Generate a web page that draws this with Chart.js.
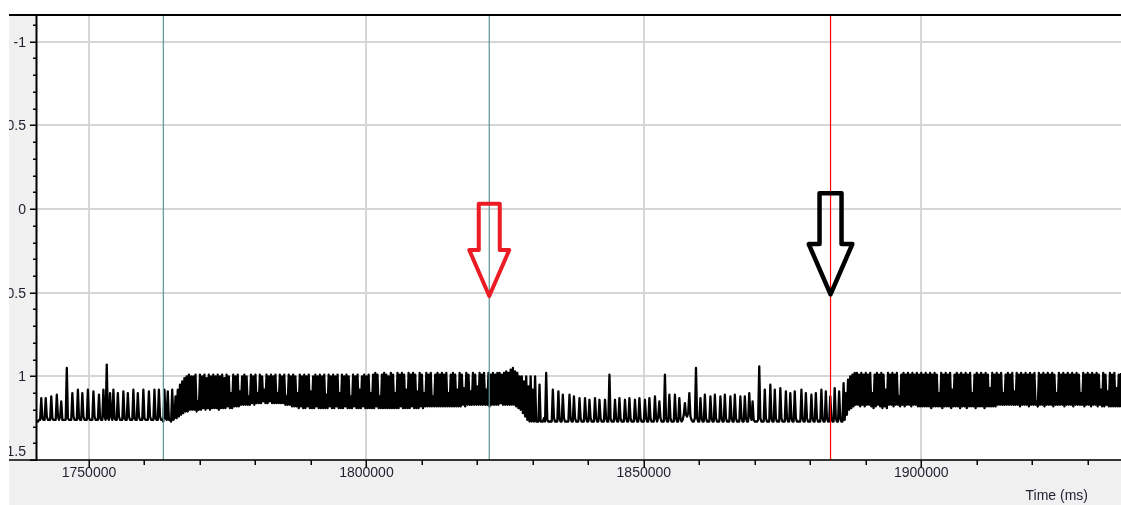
<!DOCTYPE html>
<html>
<head>
<meta charset="utf-8">
<title>Signal trace</title>
<script src="https://cdn.jsdelivr.net/npm/chart.js@4.4.1/dist/chart.umd.min.js"></script>
<style>
  html, body { margin: 0; padding: 0; background: #fff; }
  #wrap { position: relative; width: 1121px; height: 505px; }
</style>
</head>
<body>
<div id="wrap"><canvas id="plot"></canvas></div>
<script>
// Recorded signal, decimated to one reading every 200 ms (20 readings = 4 s per row)
const sampleStart = 1740600;
const sampleStepMs = 200;
const signal = [
  1.27,1.27,1.26,1.26,1.13,1.25,1.26,1.26,1.13,1.24,1.26,1.26,1.26,1.12,1.25,1.26,1.26,1.26,1.11,1.24,
  1.26,1.24,1.15,1.26,1.26,1.26,1.26,0.95,1.25,1.26,1.26,1.26,1.10,1.24,1.26,1.26,1.26,1.08,1.25,1.26,
  1.26,1.10,1.24,1.26,1.26,1.26,1.08,1.25,1.26,1.26,1.26,1.09,1.24,1.26,1.26,1.26,1.11,1.25,1.26,1.26,
  1.08,1.24,1.26,0.93,1.25,1.26,1.10,1.24,1.26,1.08,1.25,1.26,1.26,1.10,1.24,1.26,1.26,1.26,1.09,1.25,
  1.26,1.26,1.10,1.24,1.26,1.26,1.26,1.08,1.25,1.26,1.26,1.10,1.24,1.26,1.26,1.26,1.08,1.25,1.26,1.26,
  1.26,1.09,1.24,1.26,1.26,1.26,1.08,1.25,1.26,1.26,1.08,1.24,1.26,1.26,1.27,1.08,1.25,1.26,1.09,1.26,
  1.26,1.27,1.08,1.26,1.25,1.12,1.25,1.08,1.24,1.05,1.23,1.03,1.22,1.01,1.21,1.00,1.21,0.99,1.20,1.00,
  1.20,1.00,1.20,0.99,1.21,1.15,1.20,0.99,1.20,1.00,1.19,0.99,1.20,1.01,1.19,0.99,1.20,1.00,1.19,0.99,
  1.19,1.00,1.19,0.99,1.20,1.00,1.19,0.99,1.19,1.01,1.19,0.99,1.18,1.00,1.19,1.10,1.19,0.99,1.18,1.00,
  1.18,0.99,1.18,1.09,1.17,1.00,1.17,0.99,1.17,1.00,1.17,1.12,1.17,0.99,1.16,1.00,1.17,0.99,1.16,1.10,
  1.16,0.99,1.16,1.00,1.15,1.08,1.16,0.99,1.16,1.00,1.15,0.99,1.16,1.00,1.16,0.99,1.16,1.10,1.16,0.99,
  1.16,1.00,1.16,0.99,1.17,1.12,1.17,0.99,1.17,1.00,1.18,0.99,1.18,1.00,1.18,1.10,1.19,0.99,1.18,1.00,
  1.19,0.99,1.19,1.00,1.18,0.99,1.19,1.09,1.19,1.00,1.19,0.99,1.18,1.00,1.19,0.99,1.19,1.00,1.19,0.99,
  1.19,1.11,1.19,0.99,1.18,1.00,1.19,0.99,1.19,1.00,1.18,0.99,1.19,1.10,1.19,0.99,1.19,1.00,1.18,0.99,
  1.19,1.00,1.19,1.12,1.19,0.99,1.18,1.00,1.19,0.99,1.19,1.08,1.19,1.00,1.18,0.99,1.19,1.00,1.19,0.99,
  1.19,1.10,1.19,0.99,1.19,0.98,1.18,0.99,1.19,1.12,1.19,0.99,1.19,0.98,1.19,0.99,1.19,1.00,1.19,0.98,
  1.19,0.99,1.19,1.10,1.19,0.98,1.19,0.99,1.18,0.98,1.19,0.99,1.19,1.08,1.19,0.98,1.19,0.99,1.18,0.98,
  1.19,0.99,1.19,1.09,1.19,0.98,1.18,0.99,1.19,1.10,1.18,0.98,1.18,0.99,1.18,0.98,1.18,1.12,1.18,0.99,
  1.18,0.98,1.18,0.99,1.18,0.98,1.18,0.99,1.18,0.98,1.18,1.10,1.18,0.99,1.18,0.98,1.18,0.99,1.18,1.08,
  1.18,0.98,1.18,0.99,1.17,1.07,1.18,0.98,1.17,0.99,1.17,1.09,1.17,0.98,1.17,0.99,1.17,1.06,1.17,0.98,
  1.17,0.99,1.17,0.98,1.17,1.08,1.17,0.98,1.18,0.99,1.17,0.98,1.17,0.99,1.17,0.98,1.17,0.98,1.16,0.99,
  1.17,0.98,1.17,0.97,1.17,0.98,1.17,0.96,1.17,0.95,1.17,0.97,1.18,0.98,1.19,1.00,1.20,1.00,1.22,1.03,
  1.24,1.00,1.26,1.06,1.27,1.00,1.27,1.08,1.27,1.00,1.27,1.27,1.27,1.05,1.27,1.27,1.27,1.25,1.27,0.98,
  1.26,1.27,1.27,1.27,1.27,1.08,1.25,1.27,1.27,1.27,1.09,1.25,1.27,1.27,1.11,1.25,1.27,1.27,1.27,1.27,
  1.11,1.25,1.27,1.27,1.12,1.25,1.27,1.27,1.27,1.13,1.25,1.27,1.27,1.27,1.13,1.25,1.27,1.27,1.14,1.25,
  1.27,1.27,1.27,1.13,1.25,1.27,1.27,1.14,1.25,1.27,1.27,1.27,1.14,1.25,1.27,1.27,0.99,1.25,1.27,1.27,
  1.27,1.14,1.25,1.27,1.27,1.13,1.25,1.27,1.27,1.27,1.14,1.25,1.27,1.27,1.13,1.25,1.27,1.27,1.27,1.14,
  1.25,1.27,1.27,1.13,1.25,1.27,1.27,1.27,1.14,1.25,1.27,1.27,1.13,1.25,1.27,1.27,1.27,1.12,1.25,1.27,
  1.24,1.15,1.25,1.27,1.27,1.27,0.99,1.25,1.27,1.27,1.11,1.25,1.27,1.27,1.27,1.11,1.25,1.27,1.27,1.13,
  1.25,1.27,1.26,1.23,1.16,1.23,1.24,1.22,1.10,1.24,1.26,1.27,1.27,1.25,0.95,1.25,1.27,1.27,1.13,1.25,
  1.27,1.27,1.11,1.25,1.27,1.27,1.27,1.12,1.25,1.27,1.27,1.11,1.25,1.27,1.27,1.27,1.12,1.25,1.27,1.27,
  1.11,1.25,1.27,1.27,1.27,1.12,1.25,1.27,1.27,1.11,1.25,1.27,1.27,1.27,1.12,1.25,1.27,1.27,1.12,1.25,
  1.27,1.27,1.10,1.24,1.26,1.15,1.26,1.27,1.27,1.27,1.26,0.94,1.25,1.27,1.27,1.27,1.08,1.25,1.27,1.27,
  1.27,1.05,1.25,1.27,1.27,1.08,1.25,1.27,1.27,1.27,1.07,1.25,1.27,1.27,1.27,1.09,1.25,1.27,1.27,1.10,
  1.25,1.27,1.27,1.09,1.25,1.27,1.27,1.27,1.27,1.08,1.25,1.27,1.27,1.10,1.25,1.27,1.27,1.27,1.11,1.25,
  1.27,1.27,1.10,1.25,1.27,1.27,1.27,1.08,1.25,1.27,1.27,1.09,1.25,1.27,1.27,1.12,1.25,1.27,1.27,1.07,
  1.25,1.27,1.27,1.09,1.25,1.27,1.27,1.04,1.26,1.10,1.23,1.02,1.20,1.00,1.19,0.99,1.18,0.98,1.17,0.98,
  1.17,0.99,1.18,0.98,1.17,0.99,1.18,0.98,1.17,0.99,1.17,0.98,1.18,1.10,1.19,0.99,1.18,0.98,1.17,0.99,
  1.18,0.98,1.19,0.99,1.18,1.08,1.19,0.98,1.17,0.99,1.17,0.98,1.18,0.99,1.17,0.98,1.17,1.12,1.18,0.99,
  1.17,0.98,1.18,0.99,1.17,0.98,1.17,0.99,1.18,0.98,1.17,0.99,1.17,0.98,1.18,0.99,1.18,0.98,1.18,0.99,
  1.18,0.98,1.18,0.99,1.18,0.98,1.19,0.99,1.18,0.98,1.18,0.99,1.18,1.10,1.18,0.98,1.19,0.99,1.18,0.98,
  1.18,0.99,1.18,0.98,1.19,1.08,1.18,0.99,1.18,0.98,1.18,0.99,1.19,0.98,1.18,0.99,1.18,0.98,1.19,0.99,
  1.18,0.98,1.18,1.10,1.18,0.99,1.19,0.98,1.18,0.99,1.18,0.98,1.18,0.99,1.19,0.98,1.18,0.99,1.18,1.07,
  1.18,0.98,1.18,0.99,1.18,0.98,1.17,0.99,1.17,0.98,1.17,1.10,1.17,0.99,1.17,0.98,1.17,0.99,1.17,0.98,
  1.17,1.09,1.17,0.98,1.17,0.99,1.18,0.98,1.17,0.99,1.17,0.98,1.17,0.99,1.18,0.98,1.17,0.99,1.17,0.98,
  1.17,1.15,1.18,0.98,1.17,0.99,1.17,0.98,1.18,0.99,1.17,0.98,1.17,0.99,1.17,0.98,1.18,0.99,1.17,1.10,
  1.17,0.98,1.17,0.99,1.17,0.98,1.18,0.99,1.17,0.98,1.17,0.99,1.17,0.98,1.18,0.99,1.17,0.98,1.17,0.99,
  1.17,1.10,1.17,0.98,1.18,0.99,1.17,0.98,1.17,0.99,1.18,0.98,1.17,0.99,1.17,0.98,1.18,0.99,1.17,1.08,
  1.18,0.98,1.18,0.99,1.17,1.09,1.18,0.98,1.18,0.99,1.18,0.98,1.18,1.07,1.18,0.99,1.18,0.98,1.18,0.99
];

// Cursor lines (ms) and the two call-out arrows
const markerTimes = [1763400, 1822140, 1883650];
const arrowTimes = [1822140, 1883650];
const arrowTops = [-0.032, -0.094];
const arrowShoulders = [0.245, 0.209];
const arrowTips = [0.520, 0.510];

// Axis ranges and tick labels
const xRange = [1740630, 1936000];
const yRange = [-1.16, 1.5];
const xMajorTicks = [1750000, 1800000, 1850000, 1900000];
const xTickLabels = ['1750000', '1800000', '1850000', '1900000'];
const yMajorTicks = [-1, -0.5, 0, 0.5, 1, 1.5];
const yTickLabels = ['-1', '-0.5', '0', '0.5', '1', '1.5'];
const xMinorStep = 10000;
const yMinorStep = 0.1;
const xAxisTitle = 'Time (ms)';

const markerColors = ['#5b9595', '#5b9595', '#ff0000'];
const arrowLook = [
  { color: '#ec1c24', width: 4, shaft: 10.5, head: 20 },
  { color: '#000000', width: 4.5, shaft: 11, head: 21.8 }
];
const labelFont = '14px "Liberation Sans", Arial, sans-serif';
const labelColor = '#1f1f2e';
const gridColor = '#d6d6d6';

const signalPoints = signal.map((v, i) => ({ x: sampleStart + i * sampleStepMs, y: v }));

const datasets = markerTimes.map((t, i) => ({
  data: [{ x: t, y: yRange[0] }, { x: t, y: yRange[1] }],
  borderColor: markerColors[i],
  borderWidth: 1.2,
  pointRadius: 0,
  order: 0
}));
datasets.push({
  data: signalPoints,
  borderColor: '#000000',
  borderWidth: 2.3,
  borderJoinStyle: 'round',
  pointRadius: 0,
  tension: 0,
  order: 1
});

const framePlugin = {
  id: 'frame',
  beforeDraw(chart) {
    const { ctx, chartArea: a, width, height } = chart;
    ctx.save();
    ctx.fillStyle = '#ffffff';
    ctx.fillRect(0, 0, width, height);
    ctx.fillStyle = '#f0f0f0';
    ctx.fillRect(9, 15, width - 9, height - 15);
    ctx.fillStyle = '#ffffff';
    ctx.fillRect(a.left, a.top, a.right - a.left, a.bottom - a.top);
    ctx.restore();
  },
  beforeDatasetsDraw(chart) {
    // major grid lines
    const { ctx, chartArea: a } = chart;
    const xs = chart.scales.x, ys = chart.scales.y;
    ctx.save();
    ctx.strokeStyle = gridColor;
    ctx.lineWidth = 2;
    ctx.beginPath();
    xMajorTicks.forEach(t => {
      const px = Math.round(xs.getPixelForValue(t));
      ctx.moveTo(px, a.top); ctx.lineTo(px, a.bottom);
    });
    yMajorTicks.forEach(v => {
      const py = Math.round(ys.getPixelForValue(v));
      ctx.moveTo(a.left, py); ctx.lineTo(a.right, py);
    });
    ctx.stroke();
    ctx.restore();
  },
  afterDatasetsDraw(chart) {
    const { ctx } = chart;
    const xs = chart.scales.x, ys = chart.scales.y;
    ctx.save();
    arrowTimes.forEach((t, i) => {
      const look = arrowLook[i];
      const cx = xs.getPixelForValue(t);
      const top = ys.getPixelForValue(arrowTops[i]);
      const sh = ys.getPixelForValue(arrowShoulders[i]);
      const tip = ys.getPixelForValue(arrowTips[i]);
      ctx.beginPath();
      ctx.moveTo(cx - look.shaft, top);
      ctx.lineTo(cx + look.shaft, top);
      ctx.lineTo(cx + look.shaft, sh);
      ctx.lineTo(cx + look.head, sh);
      ctx.lineTo(cx, tip);
      ctx.lineTo(cx - look.head, sh);
      ctx.lineTo(cx - look.shaft, sh);
      ctx.closePath();
      ctx.lineJoin = 'round';
      ctx.lineWidth = look.width;
      ctx.strokeStyle = look.color;
      ctx.stroke();
    });
    ctx.restore();
  },
  afterDraw(chart) {
    const { ctx, chartArea: a, width } = chart;
    const xs = chart.scales.x, ys = chart.scales.y;
    ctx.save();
    ctx.strokeStyle = '#000000';

    // frame lines
    ctx.lineWidth = 2;
    ctx.beginPath();
    ctx.moveTo(9, a.top); ctx.lineTo(width, a.top);
    ctx.moveTo(a.left - 0.5, a.top); ctx.lineTo(a.left - 0.5, a.bottom + 1);
    ctx.stroke();
    ctx.lineWidth = 1.6;
    ctx.beginPath();
    ctx.moveTo(9, a.bottom); ctx.lineTo(width, a.bottom);
    ctx.stroke();

    // y tick marks
    ctx.lineWidth = 1.5;
    ctx.beginPath();
    for (let v = Math.ceil(yRange[0] / yMinorStep) * yMinorStep; v <= yRange[1] + 1e-9; v += yMinorStep) {
      const py = Math.round(ys.getPixelForValue(v)) + 0.25;
      const major = yMajorTicks.some(m => Math.abs(m - v) < 1e-6);
      ctx.moveTo(major ? 30 : 33, py);
      ctx.lineTo(a.left, py);
    }
    // x tick marks
    for (let t = Math.ceil(xRange[0] / xMinorStep) * xMinorStep; t <= xRange[1]; t += xMinorStep) {
      const px = Math.round(xs.getPixelForValue(t)) + 0.25;
      const major = xMajorTicks.includes(t);
      ctx.moveTo(px, a.bottom);
      ctx.lineTo(px, a.bottom + (major ? 8 : 5));
    }
    ctx.stroke();

    // tick labels
    ctx.font = labelFont;
    ctx.fillStyle = labelColor;
    ctx.textBaseline = 'alphabetic';
    ctx.textAlign = 'right';
    yMajorTicks.forEach((v, i) => {
      const py = Math.min(ys.getPixelForValue(v), a.bottom - 9.5);
      ctx.fillText(yTickLabels[i], 26, py + 5);
    });
    ctx.textAlign = 'center';
    xMajorTicks.forEach((t, i) => {
      ctx.fillText(xTickLabels[i], xs.getPixelForValue(t), a.bottom + 17);
    });
    ctx.textAlign = 'right';
    ctx.fillText(xAxisTitle, 1088, a.bottom + 40);

    // white margin on the far left
    ctx.fillStyle = '#ffffff';
    ctx.fillRect(0, 0, 9, chart.height);
    ctx.restore();
  }
};

new Chart(document.getElementById('plot'), {
  type: 'line',
  data: { datasets },
  options: {
    responsive: true,
    maintainAspectRatio: false,
    animation: false,
    events: [],
    normalized: true,
    layout: { padding: { top: 15, left: 0, right: 0, bottom: 0 } },
    plugins: { legend: { display: false }, tooltip: { enabled: false } },
    scales: {
      x: {
        type: 'linear',
        min: xRange[0],
        max: xRange[1],
        ticks: { display: false, stepSize: 50000, includeBounds: false },
        grid: { display: false },
        border: { display: false },
        afterFit(scale) { scale.height = 45; }
      },
      y: {
        type: 'linear',
        reverse: true,
        min: yRange[0],
        max: yRange[1],
        ticks: { display: false, stepSize: 0.5, includeBounds: false },
        grid: { display: false },
        border: { display: false },
        afterFit(scale) { scale.width = 37; }
      }
    }
  },
  plugins: [framePlugin]
});
</script>
</body>
</html>
